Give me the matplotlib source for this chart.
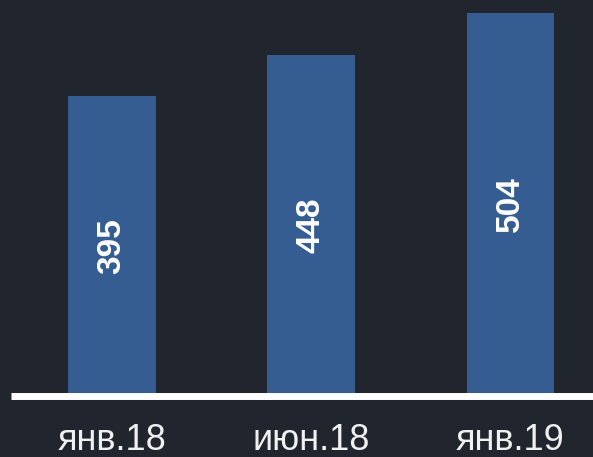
import matplotlib
matplotlib.use("Agg")
import matplotlib.pyplot as plt

# data
periods = ["янв.18", "июн.18", "янв.19"]
values = [395, 448, 504]

BG = "#21252d"
BAR = "#355d92"

plt.rcParams["font.family"] = ["Liberation Sans", "DejaVu Sans"]

fig = plt.figure(figsize=(5.93, 4.57), dpi=100, facecolor=BG)
# axes from the baseline (61 px from bottom) up to the figure top
ax = fig.add_axes([11 / 593, 61 / 457, 1 - 11 / 593, 1 - 61 / 457])
ax.set_facecolor(BG)

x = list(range(len(values)))
bars = ax.bar(x, values, width=0.44, color=BAR, edgecolor="none", zorder=2)

for xi, v in zip(x, values):
    ax.text(xi, v / 2, str(v), rotation=90, ha="center", va="center",
            color="white", fontsize=24, fontweight="bold", zorder=3)

ax.set_xlim(-0.507, 2.414)
ax.set_ylim(0, 521)

for side in ["top", "right", "left"]:
    ax.spines[side].set_visible(False)
ax.spines["bottom"].set_color("white")
ax.spines["bottom"].set_linewidth(5)
ax.spines["bottom"].set_capstyle("butt")
ax.spines["bottom"].set_zorder(4)

ax.set_yticks([])
ax.set_xticks(x)
ax.set_xticklabels(periods, fontsize=26, color="#f0f0f0")
ax.tick_params(axis="x", length=0, pad=19.5)

fig.savefig("out.png", dpi=100, facecolor=BG)
plt.close(fig)
